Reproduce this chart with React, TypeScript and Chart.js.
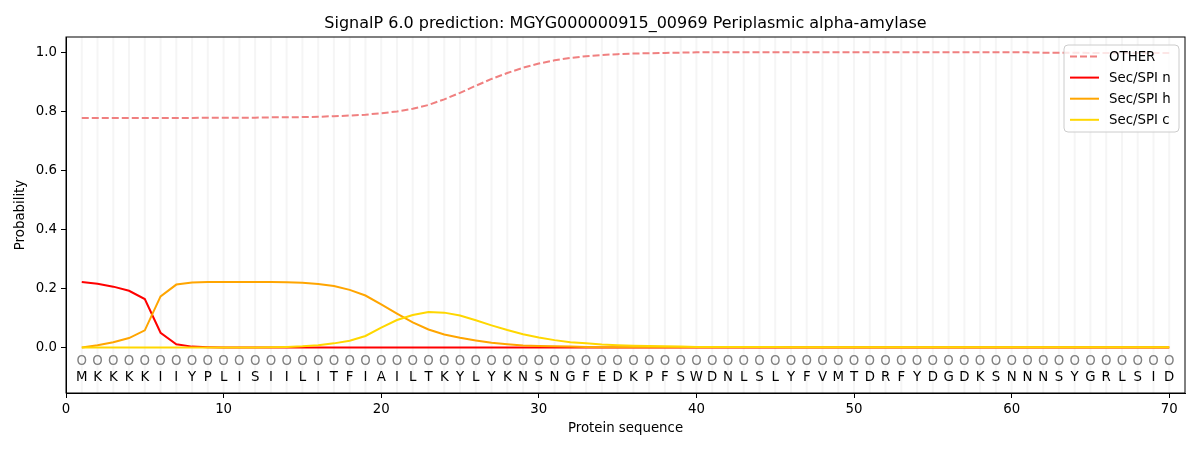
import React, { useEffect, useRef } from "react";
import { Chart, registerables } from "chart.js";

Chart.register(...registerables);

const FONT = "'DejaVu Sans', 'Liberation Sans', sans-serif";

const chartTitle =
  "SignalP 6.0 prediction: MGYG000000915_00969 Periplasmic alpha-amylase";

// residues of the protein, one per position 1..70
const sequence =
  "MKKKKIIYPLISIILITFIAILTKYLYKNSNGFEDKPFSWDNLSLYFVMTDRFYDGDKSNNNSYGRLSID".split("");

const otherProb = [
  0.777, 0.777, 0.777, 0.777, 0.777, 0.777, 0.777, 0.777, 0.778, 0.778,
  0.778, 0.778, 0.779, 0.779, 0.780, 0.781, 0.783, 0.785, 0.788, 0.793,
  0.799, 0.808, 0.821, 0.840, 0.862, 0.886, 0.909, 0.929, 0.947, 0.961,
  0.972, 0.980, 0.986, 0.990, 0.993, 0.995, 0.996, 0.997, 0.998, 0.999,
  0.999, 0.999, 0.999, 0.999, 0.999, 0.999, 0.999, 0.999, 0.999, 0.999,
  0.999, 0.999, 0.999, 0.999, 0.999, 0.999, 0.999, 0.999, 0.999, 0.999,
  0.999, 0.998, 0.998, 0.998, 0.997, 0.997, 0.997, 0.997, 0.997, 0.997,
];

const secNProb = [
  0.222, 0.216, 0.206, 0.192, 0.164, 0.050, 0.011, 0.003, 0.001, 0.000,
  0.000, 0.000, 0.000, 0.000, 0.000, 0.000, 0.000, 0.000, 0.000, 0.000,
  0.000, 0.000, 0.000, 0.000, 0.000, 0.000, 0.000, 0.000, 0.000, 0.000,
  0.000, 0.000, 0.000, 0.000, 0.000, 0.000, 0.000, 0.000, 0.000, 0.000,
  0.000, 0.000, 0.000, 0.000, 0.000, 0.000, 0.000, 0.000, 0.000, 0.000,
  0.000, 0.000, 0.000, 0.000, 0.000, 0.000, 0.000, 0.000, 0.000, 0.000,
  0.000, 0.000, 0.000, 0.000, 0.000, 0.000, 0.000, 0.000, 0.000, 0.000,
];

const secHProb = [
  0.000, 0.008, 0.018, 0.032, 0.058, 0.173, 0.213, 0.220, 0.222, 0.222,
  0.222, 0.222, 0.222, 0.221, 0.219, 0.215, 0.208, 0.195, 0.176, 0.146,
  0.115, 0.085, 0.061, 0.044, 0.033, 0.024, 0.016, 0.011, 0.007, 0.005,
  0.004, 0.003, 0.002, 0.001, 0.001, 0.001, 0.001, 0.001, 0.001, 0.001,
  0.001, 0.001, 0.001, 0.001, 0.001, 0.001, 0.001, 0.001, 0.001, 0.001,
  0.001, 0.001, 0.001, 0.001, 0.001, 0.001, 0.001, 0.001, 0.001, 0.001,
  0.001, 0.001, 0.001, 0.001, 0.001, 0.001, 0.001, 0.001, 0.001, 0.001,
];

const secCProb = [
  0.000, 0.000, 0.000, 0.000, 0.000, 0.000, 0.000, 0.000, 0.000, 0.000,
  0.000, 0.000, 0.001, 0.002, 0.004, 0.008, 0.014, 0.023, 0.039, 0.067,
  0.093, 0.110, 0.120, 0.118, 0.108, 0.092, 0.075, 0.059, 0.045, 0.034,
  0.025, 0.018, 0.014, 0.010, 0.008, 0.006, 0.005, 0.004, 0.003, 0.002,
  0.002, 0.002, 0.002, 0.002, 0.002, 0.001, 0.001, 0.001, 0.001, 0.001,
  0.001, 0.001, 0.001, 0.001, 0.001, 0.001, 0.001, 0.001, 0.001, 0.001,
  0.001, 0.001, 0.001, 0.001, 0.001, 0.001, 0.001, 0.001, 0.001, 0.001,
];

const xTicks = [0, 10, 20, 30, 40, 50, 60, 70];
const yTicks = [0, 0.2, 0.4, 0.6, 0.8, 1.0];

const positions = sequence.map((_, i) => i + 1);
const toPoints = (vals: number[]) => vals.map((y, i) => ({ x: positions[i], y }));

// where the residue markers and letters sit (in data units)
const CIRCLE_Y = -0.049;
const LETTER_Y = -0.103;

const decorations = {
  id: "decorations",
  beforeDatasetsDraw(chart: any) {
    const { ctx, chartArea, scales } = chart;
    ctx.save();
    // light vertical line per residue
    ctx.strokeStyle = "rgba(128,128,128,0.08)";
    ctx.lineWidth = 2;
    positions.forEach((p) => {
      const x = scales.x.getPixelForValue(p);
      ctx.beginPath();
      ctx.moveTo(x, chartArea.top);
      ctx.lineTo(x, chartArea.bottom);
      ctx.stroke();
    });
    ctx.font = `13.33px ${FONT}`;
    ctx.textAlign = "center";
    ctx.textBaseline = "middle";
    positions.forEach((p, i) => {
      const x = scales.x.getPixelForValue(p);
      ctx.fillStyle = "#808080";
      ctx.fillText("O", x, scales.y.getPixelForValue(CIRCLE_Y));
      ctx.fillStyle = "#000";
      ctx.fillText(sequence[i], x, scales.y.getPixelForValue(LETTER_Y));
    });
    ctx.restore();
  },
  afterDraw(chart: any) {
    const { ctx, chartArea } = chart;
    const { left, right, top, bottom } = chartArea;
    ctx.save();
    // frame
    ctx.strokeStyle = "#000";
    ctx.lineWidth = 1;
    ctx.strokeRect(left, top, right - left, bottom - top);

    // title and axis labels
    ctx.fillStyle = "#000";
    ctx.textAlign = "center";
    ctx.textBaseline = "middle";
    ctx.font = `16px ${FONT}`;
    ctx.fillText(chartTitle, (left + right) / 2, 23.5);
    ctx.font = `13.33px ${FONT}`;
    ctx.fillText("Protein sequence", (left + right) / 2, 428.5);
    ctx.save();
    ctx.translate(21, (top + bottom) / 2);
    ctx.rotate(-Math.PI / 2);
    ctx.fillText("Probability", 0, 0);
    ctx.restore();

    // legend
    const bx = 1064, by = 45, bw = 115, bh = 87;
    ctx.beginPath();
    ctx.roundRect(bx, by, bw, bh, 4);
    ctx.fillStyle = "rgba(255,255,255,0.8)";
    ctx.fill();
    ctx.strokeStyle = "#cccccc";
    ctx.stroke();
    ctx.textAlign = "left";
    chart.data.datasets.forEach((ds: any, i: number) => {
      const y = 56.5 + i * 21.1;
      ctx.beginPath();
      ctx.setLineDash(ds.borderDash || []);
      ctx.strokeStyle = ds.borderColor;
      ctx.lineWidth = 2;
      ctx.moveTo(1070, y);
      ctx.lineTo(1099, y);
      ctx.stroke();
      ctx.setLineDash([]);
      ctx.fillStyle = "#000";
      ctx.fillText(ds.label, 1109, y + 1);
    });
    ctx.restore();
  },
};

const App: React.FC = () => {
  const canvasRef = useRef<HTMLCanvasElement | null>(null);

  useEffect(() => {
    document.body.style.margin = "0";
    if (!canvasRef.current) return;
    const ctx = canvasRef.current.getContext("2d");
    if (!ctx) return;

    const line = (label: string, vals: number[], color: string, order: number, dash?: number[]) => ({
      label,
      data: toPoints(vals),
      borderColor: color,
      backgroundColor: color,
      borderWidth: 2,
      borderDash: dash,
      pointRadius: 0,
      tension: 0,
      order,
    });

    const chart = new Chart(ctx, {
      type: "line",
      data: {
        datasets: [
          line("OTHER", otherProb, "#f08080", 4, [7, 3]),
          line("Sec/SPI n", secNProb, "#ff0000", 3),
          line("Sec/SPI h", secHProb, "#ffa500", 2),
          line("Sec/SPI c", secCProb, "#ffd700", 1),
        ],
      },
      options: {
        animation: false,
        responsive: false,
        devicePixelRatio: 1,
        layout: { padding: { top: 37, right: 15, left: 0, bottom: 0 } },
        plugins: {
          legend: { display: false },
          title: { display: false },
          tooltip: { enabled: false },
        },
        scales: {
          x: {
            type: "linear",
            min: 0,
            max: 71,
            afterBuildTicks: (s: any) => {
              s.ticks = xTicks.map((v) => ({ value: v }));
            },
            afterFit: (s: any) => {
              s.height = 57;
            },
            grid: {
              drawOnChartArea: false,
              drawTicks: true,
              tickLength: 5,
              tickColor: "#000",
            },
            border: { display: true, color: "#000" },
            ticks: {
              color: "#000",
              font: { family: FONT, size: 13.33 },
              padding: 4,
              maxRotation: 0,
              autoSkip: false,
              callback: (v: any) => String(v),
            },
          },
          y: {
            type: "linear",
            min: -0.154,
            max: 1.051,
            afterBuildTicks: (s: any) => {
              s.ticks = yTicks.map((v) => ({ value: v }));
            },
            afterFit: (s: any) => {
              s.width = 66;
            },
            grid: {
              drawOnChartArea: false,
              drawTicks: true,
              tickLength: 5,
              tickColor: "#000",
            },
            border: { display: true, color: "#000" },
            ticks: {
              color: "#000",
              font: { family: FONT, size: 13.33 },
              padding: 4,
              autoSkip: false,
              callback: (v: any) => Number(v).toFixed(1),
            },
          },
        },
      },
      plugins: [decorations],
    });

    return () => {
      chart.destroy();
    };
  }, []);

  return (
    <div style={{ position: "absolute", left: 0, top: 0, width: 1200, height: 450, background: "#fff" }}>
      <canvas ref={canvasRef} width={1200} height={450} />
    </div>
  );
};

export default App;
